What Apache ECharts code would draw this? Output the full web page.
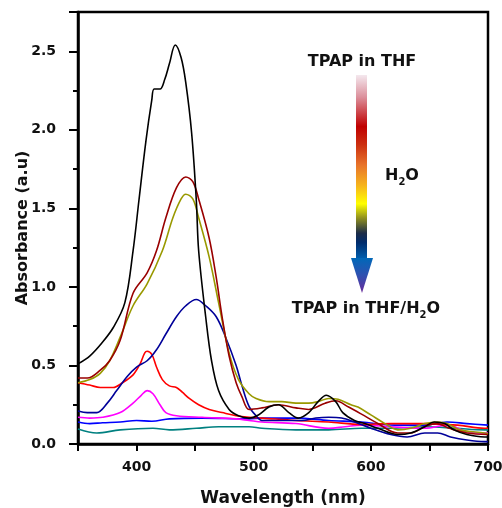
<!DOCTYPE html>
<html>
<head>
<meta charset="utf-8">
<script src="https://cdn.jsdelivr.net/npm/echarts@6/dist/echarts.min.js"></script>
<style>html,body{margin:0;padding:0;background:#fff}#c{width:502px;height:508px}</style>
</head>
<body>
<div id="c"></div>
<script>
// ---- data (wavelength in nm, absorbance in a.u.) ----
var blackWl = [350,360,370,380,390,397,402,408,413,415,420,424,428,433,438,442,447,451,453,459,464,470,479,487,496,504,513,521,530,538,547,555,562,570,576,586,595,606,623,634,646,654,663,671,682,697,700];
var blackAbs = [0.51,0.56,0.64,0.74,0.90,1.23,1.55,1.93,2.19,2.26,2.26,2.32,2.42,2.54,2.46,2.30,1.98,1.55,1.23,0.81,0.53,0.34,0.22,0.18,0.165,0.185,0.235,0.25,0.20,0.165,0.20,0.27,0.31,0.27,0.20,0.15,0.13,0.10,0.06,0.07,0.11,0.14,0.13,0.09,0.06,0.045,0.045];

var darkRedWl = [350,358,369,377,386,397,409,417,425,434,442,448,453,462,468,473,479,485,490,496,507,521,536,547,561,570,581,592,606,623,634,646,656,667,682,700];
var darkRedAbs = [0.42,0.42,0.47,0.53,0.66,0.96,1.09,1.23,1.44,1.63,1.70,1.67,1.56,1.31,1.06,0.81,0.56,0.39,0.30,0.22,0.23,0.25,0.23,0.22,0.26,0.275,0.235,0.19,0.13,0.07,0.07,0.11,0.13,0.10,0.07,0.06];

var oliveWl = [350,360,369,377,386,397,409,422,431,438,442,448,453,462,470,479,487,496,502,513,524,536,547,555,564,572,583,589,600,612,623,634,646,657,665,676,697,700];
var oliveAbs = [0.39,0.41,0.45,0.53,0.68,0.88,1.02,1.23,1.44,1.56,1.59,1.56,1.44,1.19,0.90,0.58,0.41,0.32,0.29,0.27,0.27,0.26,0.26,0.27,0.29,0.285,0.25,0.235,0.185,0.13,0.09,0.10,0.13,0.14,0.13,0.09,0.07,0.065];

var navyWl = [350,358,366,375,383,392,400,409,417,425,434,442,451,459,468,476,485,490,496,502,507,521,541,553,564,575,586,600,617,631,646,657,668,682,697,700];
var navyAbs = [0.21,0.20,0.20,0.26,0.34,0.43,0.49,0.53,0.60,0.70,0.81,0.88,0.92,0.88,0.81,0.68,0.50,0.37,0.24,0.18,0.15,0.15,0.15,0.165,0.17,0.165,0.14,0.10,0.06,0.045,0.07,0.07,0.045,0.025,0.015,0.015];

var redWl = [350,360,369,380,388,397,403,407,409,413,417,422,428,434,439,445,453,462,473,485,496,507,536,564,592,617,646,674,697,700];
var redAbs = [0.39,0.375,0.36,0.36,0.39,0.44,0.51,0.58,0.59,0.57,0.49,0.41,0.37,0.36,0.33,0.29,0.25,0.22,0.20,0.18,0.17,0.165,0.15,0.14,0.125,0.13,0.13,0.12,0.10,0.10];

var magentaWl = [350,360,371,386,397,404,409,414,420,425,434,456,485,496,507,536,564,578,592,617,646,665,682,697,700];
var magentaAbs = [0.17,0.165,0.17,0.20,0.26,0.31,0.34,0.32,0.25,0.20,0.18,0.17,0.16,0.15,0.14,0.13,0.10,0.11,0.12,0.11,0.10,0.12,0.08,0.07,0.07];

var blueWl = [350,360,371,386,400,413,428,456,496,507,536,564,592,620,646,665,682,700];
var blueAbs = [0.14,0.13,0.135,0.14,0.15,0.145,0.16,0.165,0.16,0.165,0.165,0.15,0.14,0.12,0.12,0.14,0.13,0.12];

var tealWl = [350,366,386,414,428,451,470,496,507,536,564,592,617,646,673,697,700];
var tealAbs = [0.095,0.07,0.09,0.10,0.09,0.10,0.11,0.11,0.10,0.09,0.09,0.10,0.10,0.11,0.10,0.09,0.09];

var xTickLabels = ['400','500','600','700'];
var yTickLabels = ['0.0','0.5','1.0','1.5','2.0','2.5'];

function pairs(wl, ab){ var o=[]; for(var i=0;i<wl.length;i++){ o.push([wl[i], ab[i]]); } return o; }

var FONT = 'DejaVu Sans';
var chart = echarts.init(document.getElementById('c'), null, {renderer:'canvas'});

function line(name, color, wl, ab){
  return { name:name, type:'line', data:pairs(wl,ab), showSymbol:false, smooth:0.35,
    lineStyle:{color:color, width:1.6}, itemStyle:{color:color}, silent:true, animation:false };
}

chart.setOption({
  animation:false,
  backgroundColor:'#fff',
  grid:{left:78, right:14, top:12, bottom:64, containLabel:false, outerBoundsMode:'none',
        show:true, borderColor:'#000', borderWidth:2.5},
  xAxis:{
    type:'value', min:350, max:700, interval:50,
    name:'Wavelength (nm)', nameLocation:'middle', nameGap:46, nameMoveOverlap:false,
    nameTextStyle:{fontFamily:FONT, fontWeight:'bold', fontSize:17, color:'#111'},
    axisLine:{show:true, onZero:false, lineStyle:{color:'#000', width:2.5}},
    axisTick:{show:true, inside:false, length:7, lineStyle:{color:'#000', width:2}},
    axisLabel:{margin:16, fontFamily:FONT, fontWeight:'bold', fontSize:14, color:'#111',
      formatter:function(v){ var s=String(v); return xTickLabels.indexOf(s)>=0 ? s : ''; }},
    splitLine:{show:false}
  },
  yAxis:{
    type:'value', min:0, max:2.75, interval:0.5,
    name:'Absorbance (a.u)', nameLocation:'middle', nameGap:47, nameMoveOverlap:false,
    nameTextStyle:{fontFamily:FONT, fontWeight:'bold', fontSize:16, color:'#111'},
    axisLine:{show:true, onZero:false, lineStyle:{color:'#000', width:2.5}},
    axisTick:{show:true, inside:false, length:9, lineStyle:{color:'#000', width:2}},
    minorTick:{show:true, splitNumber:2, length:5, lineStyle:{color:'#000', width:2}},
    axisLabel:{margin:22, fontFamily:FONT, fontWeight:'bold', fontSize:14, color:'#111',
      formatter:function(v){ var s=v.toFixed(1); return (yTickLabels.indexOf(s)>=0 && Math.abs(v*2-Math.round(v*2))<1e-6) ? s : ''; }},
    splitLine:{show:false}
  },
  series:[
    line('teal','#008080',tealWl,tealAbs),
    line('blue','#0000ff',blueWl,blueAbs),
    line('magenta','#ff00ff',magentaWl,magentaAbs),
    line('red','#ff0000',redWl,redAbs),
    line('navy','#000099',navyWl,navyAbs),
    line('olive','#999900',oliveWl,oliveAbs),
    line('darkred','#990000',darkRedWl,darkRedAbs),
    line('black','#000000',blackWl,blackAbs)
  ],
  graphic:[
    { type:'rect', shape:{x:356, y:75, width:11, height:184}, silent:true,
      style:{ fill:new echarts.graphic.LinearGradient(0,0,0,1,[
        {offset:0, color:'#f4e8ee'},
        {offset:0.12, color:'#dc909c'},
        {offset:0.28, color:'#c00000'},
        {offset:0.38, color:'#cc3010'},
        {offset:0.49, color:'#e8742a'},
        {offset:0.60, color:'#f6b41c'},
        {offset:0.70, color:'#ffff00'},
        {offset:0.78, color:'#8c8c20'},
        {offset:0.86, color:'#1c2c48'},
        {offset:0.91, color:'#002c6c'},
        {offset:1, color:'#0060b0'}]) } },
    { type:'polygon', shape:{points:[[351,258],[373,258],[362,293]]}, silent:true,
      style:{ fill:new echarts.graphic.LinearGradient(0,0,0,1,[
        {offset:0, color:'#0068b8'},
        {offset:0.5, color:'#3050b0'},
        {offset:1, color:'#6a2a9a'}]) } },
    { type:'text', x:362, y:62, silent:true,
      style:{ text:'TPAP in THF', fontFamily:FONT, fontWeight:'bold', fontSize:16, fill:'#111', align:'center', verticalAlign:'middle' } },
    { type:'text', x:385, y:176, silent:true,
      style:{ text:'{a|H}{s|2}{a|O}', align:'left', verticalAlign:'middle',
        rich:{ a:{fontFamily:FONT, fontWeight:'bold', fontSize:16, lineHeight:22, fill:'#111', color:'#111'},
               s:{fontFamily:FONT, fontWeight:'bold', fontSize:10, lineHeight:10, verticalAlign:'bottom', fill:'#111', color:'#111'} } } },
    { type:'text', x:366, y:309, silent:true,
      style:{ text:'{a|TPAP in THF/H}{s|2}{a|O}', align:'center', verticalAlign:'middle',
        rich:{ a:{fontFamily:FONT, fontWeight:'bold', fontSize:16, lineHeight:22, fill:'#111', color:'#111'},
               s:{fontFamily:FONT, fontWeight:'bold', fontSize:10, lineHeight:10, verticalAlign:'bottom', fill:'#111', color:'#111'} } } }
  ]
});
</script>
</body>
</html>
